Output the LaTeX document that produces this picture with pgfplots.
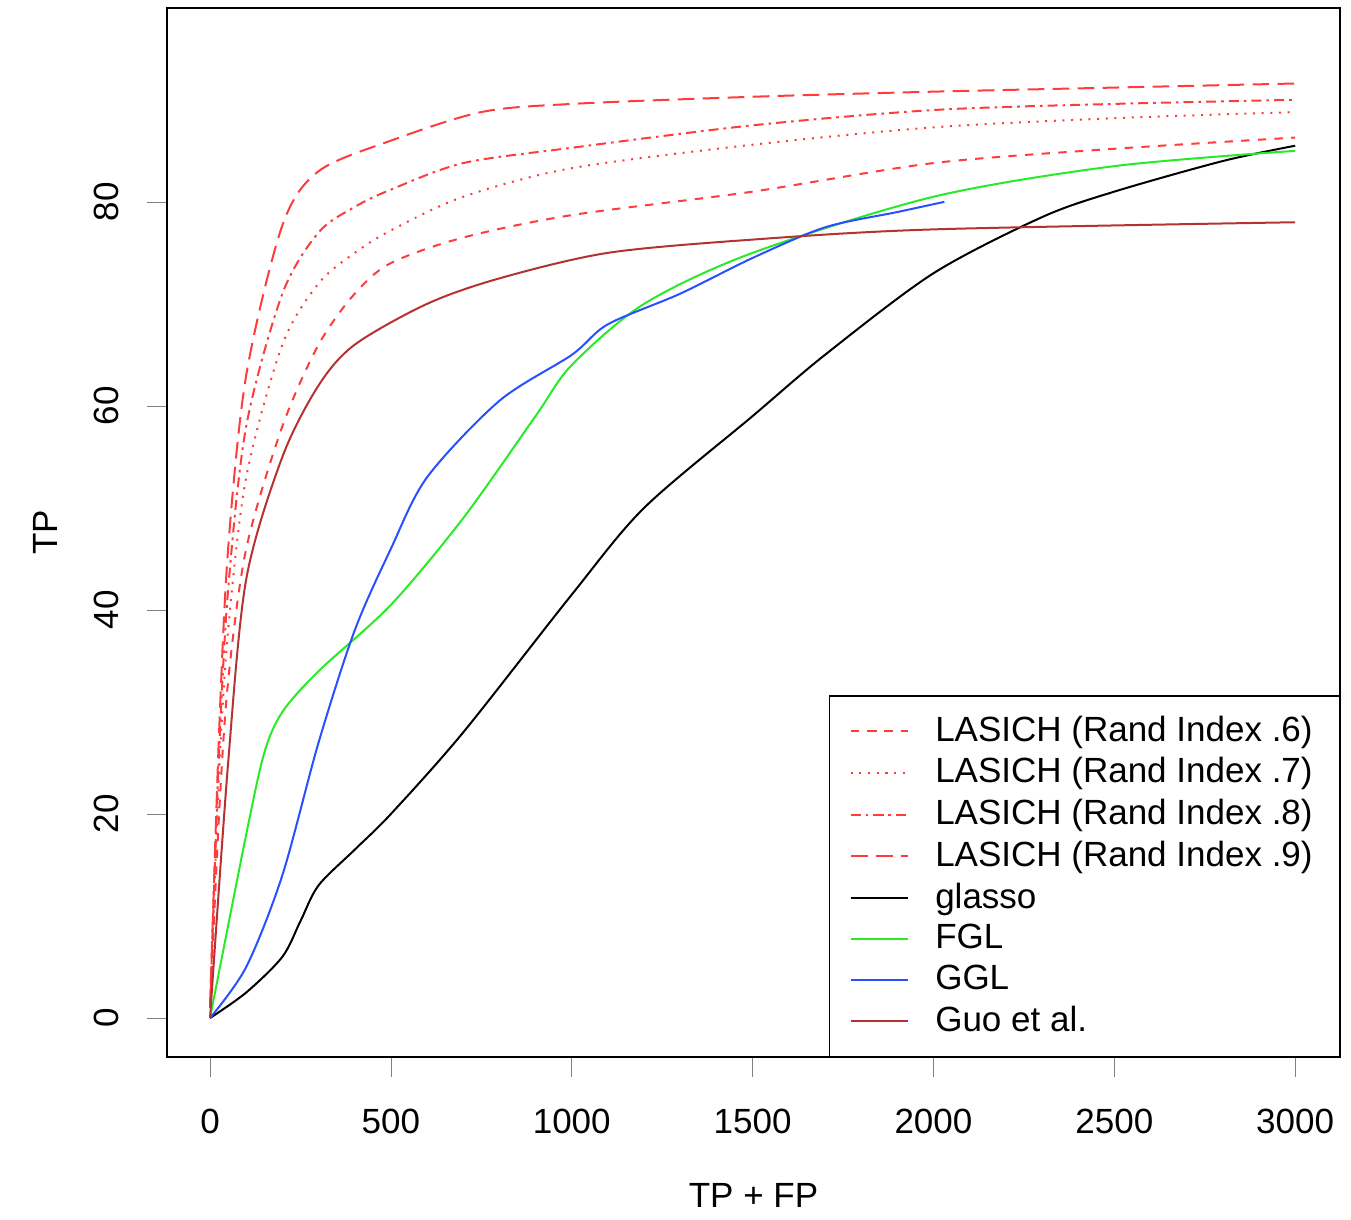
\documentclass[border=0pt]{standalone}
\usepackage{pgfplots}
\pgfplotsset{compat=1.18}
\usepackage{fontspec}
\setmainfont{Liberation Sans}
\definecolor{rr}{RGB}{255,60,60}
\definecolor{gg}{RGB}{40,235,40}
\definecolor{bb}{RGB}{40,80,255}
\definecolor{guo}{RGB}{180,50,50}
\begin{document}
\begin{tikzpicture}
\begin{axis}[at={(0,0)},anchor=south west,scale only axis,width=351.9pt,height=314.7pt,
 xmin=-119,xmax=3124,ymin=-3.82,ymax=99,
 font=\fontsize{10.5}{12}\selectfont,
 /pgf/number format/assume math mode=true,
 xtick={0,500,...,3000},ytick={0,20,...,80},
 scaled x ticks=false, x tick label style={/pgf/number format/fixed, /pgf/number format/1000 sep={}},
 y tick label style={rotate=90,anchor=south},
 tick align=outside,major tick length=6pt,xtick pos=bottom,ytick pos=left,
 xticklabel shift=6pt, yticklabel shift=5pt,
 xlabel={TP + FP},ylabel={TP},
 xlabel style={yshift=-8pt},ylabel style={yshift=4pt},
 clip=false,
 legend style={at={(1,0)},anchor=south east,draw=black,font=\fontsize{10.5}{12}\selectfont,row sep=-0.6pt,inner xsep=6pt,inner ysep=4pt,cells={anchor=west},
   /tikz/every odd column/.append style={column sep=6pt}},
 every axis plot/.append style={line width=0.6pt}]
\addplot[rr,dash pattern=on 2.5pt off 2.5pt,smooth] coordinates {(0,1)(25,20)(50,33)(100,46)(200,58)(300,66)(400,71)(500,74)(700,76.5)(1000,78.7)(1500,81)(2000,83.8)(2500,85.2)(3000,86.3)};
\addplot[rr,dotted,smooth] coordinates {(0,1)(25,24)(50,38)(100,53)(200,66)(300,72)(400,75)(500,77.2)(700,80.5)(1000,83.3)(1500,85.6)(2000,87.3)(2500,88.2)(3000,88.8)};
\addplot[rr,dash pattern=on 3pt off 1.5pt on 0.8pt off 1.5pt,smooth] coordinates {(0,1)(25,26)(50,42)(100,58)(200,71)(300,77)(400,79.5)(500,81.2)(700,83.8)(1000,85.3)(1500,87.5)(2000,89)(2500,89.6)(3000,90)};
\addplot[rr,dash pattern=on 5pt off 2.5pt,smooth] coordinates {(0,1)(25,28)(50,46)(100,63)(200,77.7)(300,83)(500,86)(750,88.8)(1000,89.6)(1500,90.3)(2000,90.8)(2500,91.2)(3000,91.6)};
\addplot[black,smooth] coordinates {(0,0)(100,2.5)(200,6)(250,9.5)(300,13)(400,16.5)(500,20)(700,28)(1000,41.5)(1200,50)(1500,59)(1700,65)(2000,73)(2300,78.5)(2500,81)(2800,84)(3000,85.5)};
\addplot[gg,smooth] coordinates {(0,0)(100,18)(150,26)(200,30)(300,34)(500,40.5)(700,49)(900,59)(1000,64)(1200,70)(1500,75)(2000,80.5)(2500,83.5)(3000,85)};
\addplot[bb,smooth] coordinates {(0,0)(100,5)(200,14)(300,27)(400,38)(500,46)(600,53)(800,60.5)(1000,65)(1100,68)(1300,71)(1500,74.5)(1700,77.5)(1900,79)(2030,80)};
\addplot[guo,smooth] coordinates {(0,0)(50,25)(100,43)(200,55)(300,62)(400,66)(600,70)(800,72.5)(1100,75)(1500,76.3)(2000,77.3)(3000,78)};
\legend{LASICH (Rand Index .6),LASICH (Rand Index .7),LASICH (Rand Index .8),LASICH (Rand Index .9),glasso,FGL,GGL,Guo et al.}
\end{axis}
\pgfresetboundingbox
\useasboundingbox (-50.1pt,-48.9pt) rectangle (355.2pt,317.1pt);
\end{tikzpicture}
\end{document}
